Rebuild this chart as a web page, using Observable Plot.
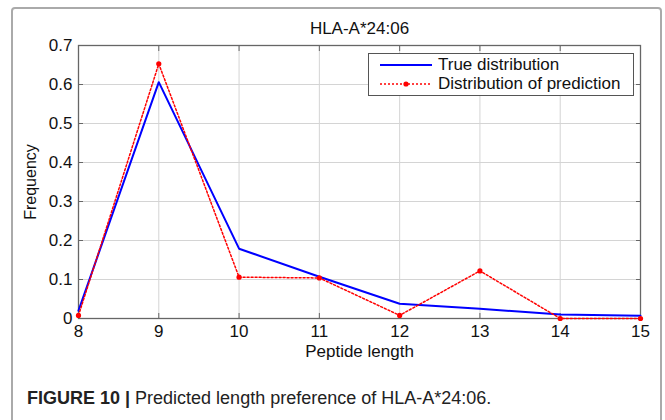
<!DOCTYPE html>
<html><head><meta charset="utf-8">
<script src="https://cdn.jsdelivr.net/npm/d3@7"></script>
<script src="https://cdn.jsdelivr.net/npm/@observablehq/plot@0.6"></script>
<style>
html,body{margin:0;padding:0;background:#fff;width:665px;height:420px;overflow:hidden;font-family:"Liberation Sans",Arial,sans-serif;}
#box{position:absolute;left:11px;top:7px;width:647px;height:440px;border:2px solid #aaa;border-radius:4px;}
#chart{position:absolute;left:0;top:0;}
#legend{position:absolute;left:368px;top:53px;width:264px;height:41px;border:1px solid #555;background:#fff;font-size:17px;color:#111;}
#legend .row{position:absolute;left:0;height:19px;display:flex;align-items:center;}
#legend svg{margin-left:11px;margin-right:6px;}
#caption{position:absolute;left:27px;top:388px;font-family:"Liberation Sans",Arial,sans-serif;font-size:18px;color:#222;white-space:nowrap;}
</style></head>
<body>
<div id="box"></div>
<div id="chart"></div>
<div id="legend"></div>
<div id="caption"></div>
<script>
const title = "HLA-A*24:06";
const xLabel = "Peptide length";
const yLabel = "Frequency";
const lengths = [8, 9, 10, 11, 12, 13, 14, 15];
const trueDist = [0.02, 0.606, 0.179, 0.107, 0.038, 0.025, 0.01, 0.007];
const predDist = [0.008, 0.653, 0.106, 0.104, 0.008, 0.122, 0.0, 0.0];
const seriesNames = ["True distribution", "Distribution of prediction"];
const yTicks = [0, 0.1, 0.2, 0.3, 0.4, 0.5, 0.6, 0.7];
const yTickLabels = ["0", "0.1", "0.2", "0.3", "0.4", "0.5", "0.6", "0.7"];
const captionBold = "FIGURE 10 |";
const captionText = " Predicted length preference of HLA-A*24:06.";

const trueData = lengths.map((x, i) => ({x, y: trueDist[i]}));
const predData = lengths.map((x, i) => ({x, y: predDist[i]}));

const chart = Plot.plot({
  width: 665,
  height: 370,
  marginLeft: 78,
  marginRight: 25,
  marginTop: 45,
  marginBottom: 52,
  style: {fontFamily: "'Liberation Sans', Arial, sans-serif", fontSize: "17px", color: "#111", background: "transparent"},
  x: {domain: [8, 15]},
  y: {domain: [0, 0.7]},
  marks: [
    Plot.gridX(lengths, {stroke: "#d4d4d4", strokeOpacity: 1}),
    Plot.gridY(yTicks, {stroke: "#d4d4d4", strokeOpacity: 1}),
    Plot.axisX(lengths, {tickSize: -5, tickPadding: 11, stroke: "#666", label: xLabel, labelAnchor: "center", labelArrow: "none", labelOffset: 38}),
    Plot.axisX(lengths, {anchor: "top", tickSize: -5, tickFormat: () => "", stroke: "#666", label: null}),
    Plot.axisY(yTicks, {tickSize: -5, tickPadding: 11, stroke: "#666", tickFormat: (d) => yTickLabels[yTicks.indexOf(d)], label: yLabel, labelAnchor: "center", labelArrow: "none", labelOffset: 54, fontSize: 17}),
    Plot.axisY(yTicks, {anchor: "right", tickSize: -5, tickFormat: () => "", stroke: "#666", label: null}),
    Plot.frame({stroke: "#666", strokeWidth: 1.3}),
    Plot.line(trueData, {x: "x", y: "y", stroke: "#0000ff", strokeWidth: 2}),
    Plot.line(predData, {x: "x", y: "y", stroke: "#ff0000", strokeWidth: 1.5, strokeDasharray: "2,2"}),
    Plot.dot(predData, {x: "x", y: "y", fill: "#ff0000", r: 2.6}),
    Plot.text([title], {frameAnchor: "top", lineAnchor: "middle", dy: -17, fontSize: 17, fill: "#111"})
  ]
});
document.getElementById("chart").appendChild(chart);
chart.querySelectorAll("g[aria-label='y-axis label'] text").forEach(t => t.setAttribute("font-size", 16));

const legend = document.getElementById("legend");
seriesNames.forEach((name, i) => {
  const row = document.createElement("div");
  row.className = "row";
  row.style.top = (i === 0 ? 1 : 20) + "px";
  const sample = i === 0
    ? `<svg width="52" height="10"><line x1="0" y1="5" x2="52" y2="5" stroke="#0000ff" stroke-width="2"/></svg>`
    : `<svg width="52" height="10"><line x1="0" y1="5" x2="52" y2="5" stroke="#ff0000" stroke-width="1.5" stroke-dasharray="2,2"/><circle cx="26" cy="5" r="2.6" fill="#ff0000"/></svg>`;
  row.innerHTML = sample + `<span>${name}</span>`;
  legend.appendChild(row);
});

document.getElementById("caption").innerHTML = `<b>${captionBold}</b>${captionText}`;
</script>
</body></html>
